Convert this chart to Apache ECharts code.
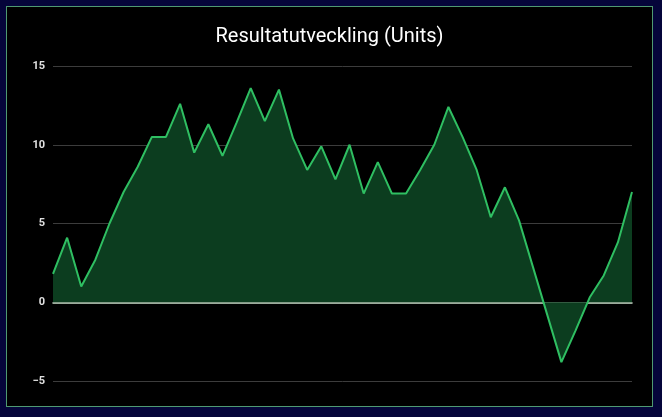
<!DOCTYPE html>
<html>
<head>
<meta charset="utf-8">
<script src="https://cdn.jsdelivr.net/npm/echarts@6/dist/echarts.min.js"></script>
<style>
    html, body { margin: 0; padding: 0; background: #05053a; width: 662px; height: 417px; overflow: hidden; }
    .box { position: absolute; left: 6px; top: 6px; width: 645px; height: 399px; border: 1px solid #4f9a72; background: #000; }
    #chart { width: 645px; height: 399px; }
</style>
</head>
<body>
<div class="box"><div id="chart"></div></div>
<script>
    // omgångar (index), värden
    let rounds = [];
    let results = [1.8, 4.1, 1.0, 2.7, 5.0, 7.0, 8.6, 10.5, 10.5, 12.6,
        9.5, 11.3, 9.3, 11.4, 13.6, 11.5, 13.5, 10.4, 8.4, 9.9,
        7.8, 10.0, 6.9, 8.9, 6.9, 6.9, 8.4, 10.0, 12.4, 10.5,
        8.4, 5.4, 7.3, 5.2, 2.2, -0.8, -3.8, -1.8, 0.3, 1.7,
        3.8, 7.0];
    for (let i = 0; i < results.length; i++) {
        rounds.push(String(i + 1));
    }
    let yTicks = [-5, 0, 5, 10, 15];

    let myChart = echarts.init(document.getElementById('chart'));

    let option = {
        backgroundColor: '#000',
        animation: false,
        title: {
            text: 'Resultatutveckling (Units)',
            left: 'center',
            top: 15,
            textStyle: {
                color: '#fff',
                fontFamily: 'Roboto',
                fontSize: 20,
                fontWeight: 'normal'
            }
        },
        grid: {
            left: 46,
            right: 20,
            top: 59,
            bottom: 25
        },
        xAxis: {
            type: 'category',
            data: rounds,
            boundaryGap: false,
            axisLine: {
                onZero: true,
                lineStyle: { color: '#cfe3d0', width: 1.5 }
            },
            axisTick: { show: false },
            axisLabel: { show: false },
            splitLine: { show: false }
        },
        yAxis: {
            type: 'value',
            min: yTicks[0],
            max: yTicks[yTicks.length - 1],
            interval: 5,
            axisLine: { show: false },
            axisTick: { show: false },
            axisLabel: {
                color: '#e0e0e0',
                fontFamily: 'Roboto',
                fontSize: 11,
                fontWeight: 'bold',
                margin: 8,
                formatter: function (v) {
                    return String(v).replace('-', '\u2212');
                }
            },
            splitLine: {
                lineStyle: { color: '#3c3c3c', width: 1 }
            }
        },
        series: [{
            type: 'line',
            data: results,
            symbol: 'none',
            lineStyle: { color: '#2fbf62', width: 2 },
            areaStyle: { color: '#0c3d1f', opacity: 1 }
        }]
    };

    myChart.setOption(option);
</script>
</body>
</html>
